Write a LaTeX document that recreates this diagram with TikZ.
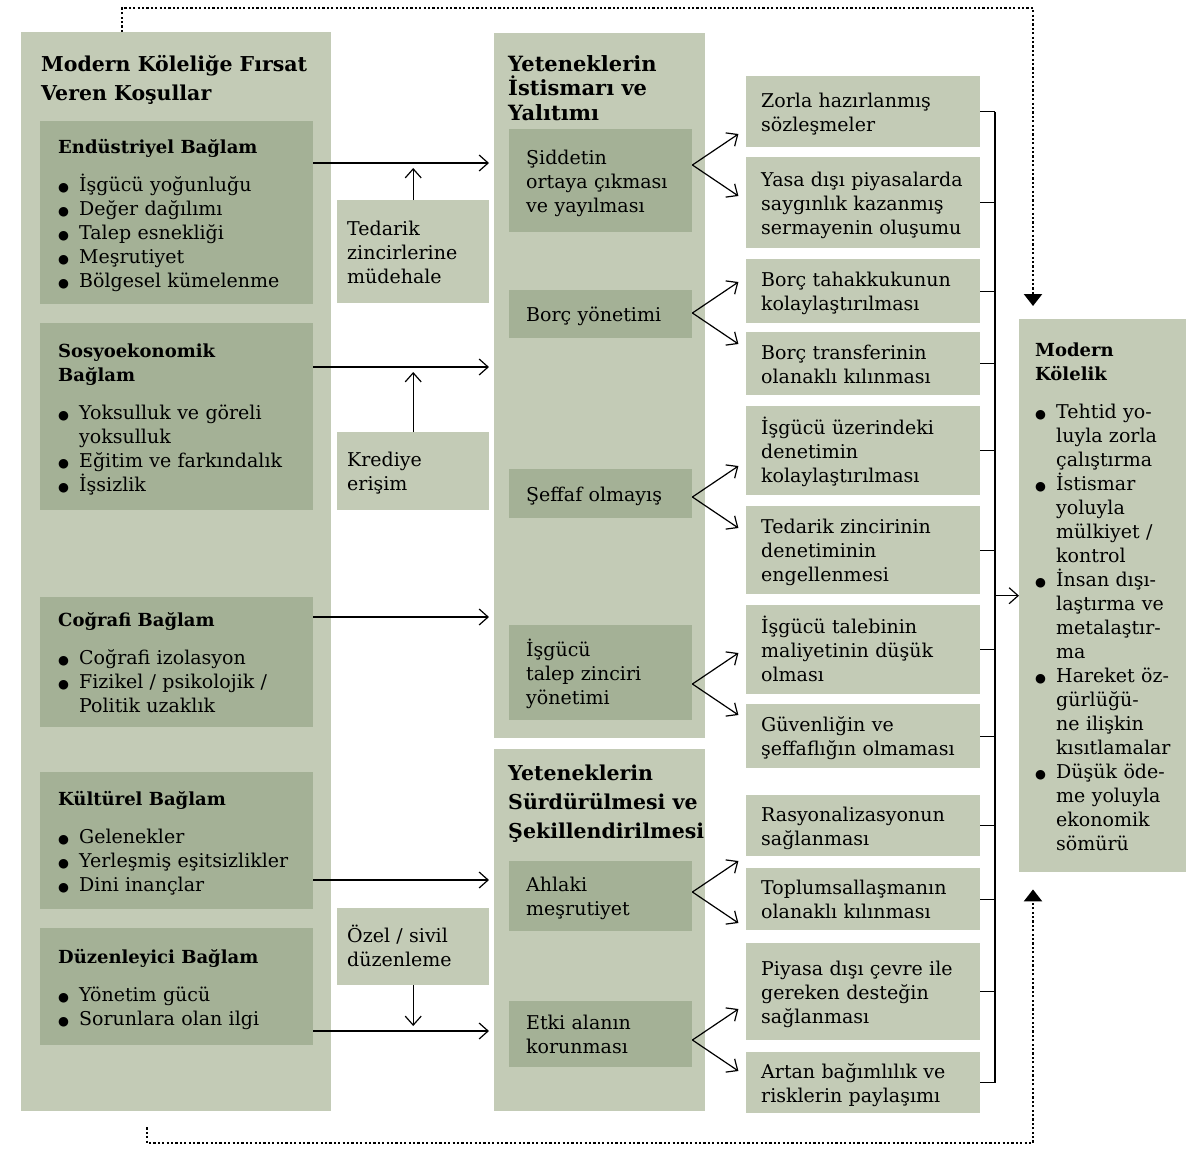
\documentclass[tikz,border=0pt]{standalone}
\usepackage{fontspec}
\setmainfont{DejaVu Serif}
\newfontfamily\dotfont{DejaVu Sans}
\usetikzlibrary{arrows.meta,positioning}
\definecolor{pale}{RGB}{195,203,182}
\definecolor{sage}{RGB}{164,177,150}
\hyphenpenalty=10000
\newcommand*{\itm}{\makebox[21pt][l]{{\dotfont\fontsize{12.5}{12}\selectfont ●}}}
\newcommand*{\cont}{\hspace*{21pt}}
\newcommand*{\hd}{\fontsize{18}{24}\selectfont\bfseries}

\begin{document}
\begin{tikzpicture}[x=1pt,y=-1pt,
	every node/.style={font=\fontsize{19}{24}\selectfont},
	tall/.style={minimum height=#1pt},
	box/.style={anchor=north west,inner ysep=0pt,align=left,
		execute at begin node=\rule{0pt}{20pt},execute at end node=\rule[-5pt]{0pt}{5pt}},
	frame/.style={box,fill=pale,inner sep=0pt},
	ctx/.style={box,fill=sage,inner xsep=18pt,text width=237pt},
	lever/.style={box,fill=pale,inner xsep=10pt,text width=132pt},
	mech/.style={box,fill=sage,inner xsep=17pt,text width=149pt},
	effect/.style={box,fill=pale,inner xsep=15pt,text width=204pt},
	ttl/.style={anchor=north west,inner sep=0pt,align=left},
	arr/.style={line width=1.2pt,-{Straight Barb[length=9pt,width=16pt]}},
	fback/.style={line width=2.3pt,dash pattern=on 2.2pt off 2.2pt,-{Triangle[length=12pt,width=18pt]}}]
	\useasboundingbox (0,0) rectangle (1186,1149);
	% containers
	\node[frame,minimum width=310pt,tall=1079] (lo) at (21,32) {};
	\node[frame,minimum width=211pt,tall=705] (up) at (494,33) {};
	\node[frame,minimum width=211pt,tall=362] (lw) at (494,749) {};
	\node[ttl,font=\fontsize{20.5}{29}\selectfont\bfseries] (loT) at (41,55) {Modern Köleliğe Fırsat\\Veren Koşullar};
	\node[ttl,font=\fontsize{21}{24.5}\selectfont\bfseries] (upT) at (508,55) {Yeteneklerin\\İstismarı ve\\Yalıtımı};
	\node[ttl,font=\fontsize{20.5}{29}\selectfont\bfseries] (lwT) at (508,765) {Yeteneklerin\\Sürdürülmesi ve\\Şekillendirilmesi};
	% contexts
	\node[ctx,tall=183] (indB) at (40,121) {{\hd Endüstriyel Bağlam}\\[14pt]\itm İşgücü yoğunluğu\\\itm Değer dağılımı\\\itm Talep esnekliği\\\itm Meşrutiyet\\\itm Bölgesel kümelenme};
	\node[ctx,tall=187] (socB) at (40,323) {{\hd Sosyoekonomik\\Bağlam}\\[14pt]\itm Yoksulluk ve göreli\\\cont yoksulluk\\\itm Eğitim ve farkındalık\\\itm İşsizlik};
	\node[ctx,tall=130] (geoB) at (40,597) {{\hd Coğrafi Bağlam}\\[14pt]\itm Coğrafi izolasyon\\\itm Fizikel / psikolojik /\\\cont Politik uzaklık};
	\node[ctx,tall=137] (culB) at (40,772) {{\hd Kültürel Bağlam}\\[14pt]\itm Gelenekler\\\itm Yerleşmiş eşitsizlikler\\\itm Dini inançlar};
	\node[ctx,tall=117] (regB) at (40,928) {{\hd Düzenleyici Bağlam}\\[14pt]\itm Yönetim gücü\\\itm Sorunlara olan ilgi};
	% levers
	\node[lever,tall=103] (tedB) at (337,200) {Tedarik\\zincirlerine\\müdehale};
	\node[lever,tall=78] (kreB) at (337,432) {Krediye\\erişim};
	\node[lever,tall=77] (ozeB) at (337,908) {Özel / sivil\\düzenleme};
	% mechanisms
	\node[mech,tall=103] (vioB) at (509,129) {Şiddetin\\ortaya çıkması\\ve yayılması};
	\node[mech,tall=48] (debB) at (509,290) {Borç yönetimi};
	\node[mech,tall=49] (opaB) at (509,469) {Şeffaf olmayış};
	\node[mech,tall=95] (labB) at (509,625) {İşgücü\\talep zinciri\\yönetimi};
	\node[mech,tall=70] (morB) at (509,861) {Ahlaki\\meşrutiyet};
	\node[mech,tall=66] (infB) at (509,1001) {Etki alanın\\korunması};
	% outcomes
	\node[effect,tall=71] (r1) at (746,76) {Zorla hazırlanmış\\sözleşmeler};
	\node[effect,tall=91] (r2) at (746,157) {Yasa dışı piyasalarda\\saygınlık kazanmış\\sermayenin oluşumu};
	\node[effect,tall=64] (r3) at (746,259) {Borç tahakkukunun\\kolaylaştırılması};
	\node[effect,tall=63] (r4) at (746,332) {Borç transferinin\\olanaklı kılınması};
	\node[effect,tall=89] (r5) at (746,406) {İşgücü üzerindeki\\denetimin\\kolaylaştırılması};
	\node[effect,tall=88] (r6) at (746,506) {Tedarik zincirinin\\denetiminin\\engellenmesi};
	\node[effect,tall=89] (r7) at (746,605) {İşgücü talebinin\\maliyetinin düşük\\olması};
	\node[effect,tall=64] (r8) at (746,704) {Güvenliğin ve\\şeffaflığın olmaması};
	\node[effect,tall=61] (r9) at (746,795) {Rasyonalizasyonun\\sağlanması};
	\node[effect,tall=62] (r10) at (746,868) {Toplumsallaşmanın\\olanaklı kılınması};
	\node[effect,tall=97] (r11) at (746,943) {Piyasa dışı çevre ile\\gereken desteğin\\sağlanması};
	\node[effect,tall=61] (r12) at (746,1052) {Artan bağımlılık ve\\risklerin paylaşımı};
	% result
	\node[box,fill=pale,inner xsep=16pt,text width=135pt,tall=553] (ms) at (1019,319) {{\hd Modern\\Kölelik}\\[14pt]\itm Tehtid yo-\\\cont luyla zorla\\\cont çalıştırma\\\itm İstismar\\\cont yoluyla\\\cont mülkiyet /\\\cont kontrol\\\itm İnsan dışı-\\\cont laştırma ve\\\cont metalaştır-\\\cont ma\\\itm Hareket öz-\\\cont gürlüğü-\\\cont ne ilişkin\\\cont kısıtlamalar\\\itm Düşük öde-\\\cont me yoluyla\\\cont ekonomik\\\cont sömürü};
	% connectors
	\foreach \n/\y/\t in {indB/163/up,socB/367/up,geoB/617/up,culB/880/lw,regB/1031/lw}
		\draw[arr,shorten >=5pt] (\n.east |- 0,\y) -- (\t.west |- 0,\y);
	\draw[arr] (tedB.north) -- (tedB.north |- 0,168);
	\draw[arr] (kreB.north) -- (kreB.north |- 0,372);
	\draw[arr] (ozeB.south) -- (ozeB.south |- 0,1026);
	\foreach \n/\y in {vioB/165,debB/313,opaB/497,labB/684,morB/892,infB/1040}{
		\draw[arr] (\n.east |- 0,\y) -- +(46,-31);
		\draw[arr] (\n.east |- 0,\y) -- +(46,31);
	}
	\coordinate (rail) at (995,0);
	\foreach \i in {1,...,12} \draw[line width=1.2pt] (r\i.east) -- (r\i.east -| rail);
	\draw[line width=1.2pt] (r1.east -| rail) -- (r12.east -| rail);
	\draw[arr] (rail |- ms.west) -- (ms.west);
	% feedback loop
	\coordinate (tl) at (122,8); \coordinate (tr) at (1033,8);
	\coordinate (bl) at (147,1143); \coordinate (bq) at (1033,1143);
	\draw[fback,shorten >=13pt] (lo.north -| tl) -- (tl) -- (tr) -- (tr |- ms.north);
	\draw[fback,shorten <=16pt,shorten >=17pt] (lo.south -| bl) -- (bl) -- (bq) -- (bq |- ms.south);
\end{tikzpicture}
\end{document}
